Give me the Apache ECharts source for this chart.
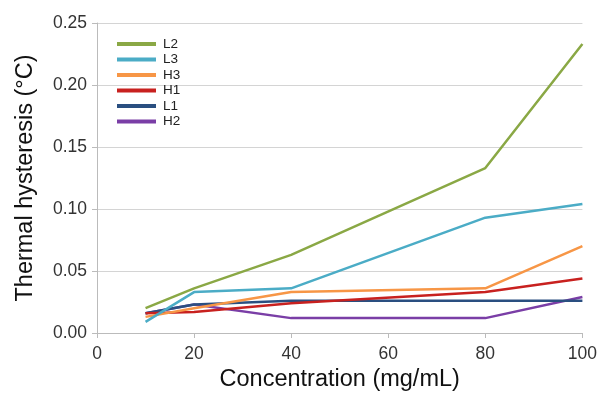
<!DOCTYPE html>
<html><head><meta charset="utf-8">
<script src="https://cdn.jsdelivr.net/npm/echarts@6/dist/echarts.min.js"></script>
<style>html,body{margin:0;padding:0;background:#fff}#c{width:600px;height:397px}</style>
</head><body><div id="c"></div>
<script>
const concentrations = [10, 20, 40, 80, 100];
const seriesNames = ['L2', 'L3', 'H3', 'H1', 'L1', 'H2'];
const L2 = [0.020, 0.036, 0.063, 0.133, 0.233];
const L3 = [0.009, 0.033, 0.036, 0.093, 0.104];
const H3 = [0.013, 0.020, 0.033, 0.036, 0.070];
const H1 = [0.016, 0.017, 0.024, 0.033, 0.044];
const L1 = [0.016, 0.023, 0.026, 0.026, 0.026];
const H2 = [0.016, 0.023, 0.012, 0.012, 0.029];
const seriesValues = [L2, L3, H3, H1, L1, H2];
const colors = ['#8aa845', '#4bacc6', '#f79646', '#c8211f', '#2a4f80', '#7a3ea6'];
const yTicks = ['0.00', '0.05', '0.10', '0.15', '0.20', '0.25'];

const FONT = 'Liberation Sans, Arial, sans-serif';
const chart = echarts.init(document.getElementById('c'), null, {renderer: 'canvas'});
chart.setOption({
  animation: false,
  color: colors,
  grid: {left: 97, right: 15, top: 23, bottom: 64},
  legend: {
    orient: 'vertical', left: 117, top: 37,
    icon: 'rect', itemWidth: 39, itemHeight: 4, itemGap: 1.5, padding: 0,
    textStyle: {fontSize: 13.5, color: '#222', fontFamily: FONT, lineHeight: 12.5, padding: [0, 0, 0, 2]},
    data: seriesNames
  },
  xAxis: {
    type: 'value', min: 0, max: 100, interval: 20,
    name: 'Concentration (mg/mL)', nameLocation: 'middle', nameGap: 34,
    nameTextStyle: {fontSize: 23.5, color: '#111', fontFamily: FONT},
    axisLine: {lineStyle: {color: '#bbb'}},
    axisTick: {show: true, length: 5, lineStyle: {color: '#bbb'}},
    axisLabel: {fontSize: 17.5, color: '#333', margin: 12, fontFamily: FONT},
    splitLine: {show: false}
  },
  yAxis: {
    type: 'value', min: 0, max: 0.25, interval: 0.05,
    name: 'Thermal hysteresis (\u00B0C)', nameLocation: 'middle', nameGap: 59, nameRotate: 90,
    nameTextStyle: {fontSize: 23.5, color: '#111', fontFamily: FONT},
    axisLine: {show: true, lineStyle: {color: '#bbb'}},
    axisTick: {show: true, length: 5, lineStyle: {color: '#bbb'}},
    axisLabel: {fontSize: 17.5, color: '#333', margin: 10, fontFamily: FONT,
      formatter: (v) => yTicks[Math.round(v / 0.05)]},
    splitLine: {show: true, lineStyle: {color: '#d4d4d4', width: 1}}
  },
  series: seriesNames.map((n, i) => ({
    name: n, type: 'line', symbol: 'none', z: 10 - i,
    lineStyle: {width: 2.5, color: colors[i]},
    itemStyle: {color: colors[i]},
    data: concentrations.map((x, j) => [x, seriesValues[i][j]])
  }))
});
</script></body></html>
